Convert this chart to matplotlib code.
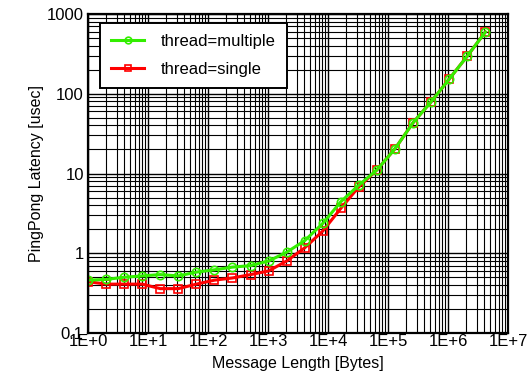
import numpy as np
import matplotlib
matplotlib.use('Agg')
import matplotlib.pyplot as plt
from matplotlib.ticker import LogLocator, FixedLocator, FuncFormatter, NullFormatter

plt.rcParams['font.family'] = ['Liberation Sans', 'DejaVu Sans']

# message sizes 2^0 .. 2^22 bytes
msg_bytes = [2 ** i for i in range(23)]
lat_multiple = [0.46, 0.47, 0.50, 0.52, 0.54, 0.52, 0.58, 0.62, 0.67, 0.70,
                0.80, 1.03, 1.44, 2.37, 4.43, 7.17, 11.1, 20.5, 43.4, 79.5,
                153.0, 297.0, 595.0]
lat_single = [0.44, 0.41, 0.41, 0.41, 0.36, 0.36, 0.41, 0.46, 0.49, 0.54,
              0.60, 0.80, 1.17, 1.90, 3.66, 6.83, 11.1, 20.5, 43.4, 79.5,
              153.0, 297.0, 595.0]

fig = plt.figure(figsize=(5.32, 3.73), dpi=100)
fig.set_facecolor('w')
ax = fig.add_axes([88 / 532, 1 - 333 / 373, 420 / 532, 319 / 373])

ax.plot(msg_bytes, lat_multiple, color='#33ee00', lw=2.2, marker='o',
        ms=6, mfc='none', mew=1.2, label='thread=multiple', zorder=4)
ax.plot(msg_bytes, lat_single, color='#ff0000', lw=2.2, marker='s',
        ms=6, mfc='none', mew=1.2, label='thread=single', zorder=3)

ax.set_xscale('log')
ax.set_yscale('log')
ax.set_xlim(1, 1e7)
ax.set_ylim(0.1, 1000)

ax.xaxis.set_major_locator(FixedLocator([10.0 ** k for k in range(8)]))
ax.xaxis.set_major_formatter(FuncFormatter(lambda v, p: '1E+%d' % round(np.log10(v))))
ax.xaxis.set_minor_locator(LogLocator(base=10, subs=np.arange(2, 10), numticks=20))
ax.xaxis.set_minor_formatter(NullFormatter())

ax.yaxis.set_major_locator(FixedLocator([0.1, 1, 10, 100, 1000]))
ax.yaxis.set_major_formatter(FuncFormatter(lambda v, p: ('%g' % v)))
ax.yaxis.set_minor_locator(LogLocator(base=10, subs=np.arange(2, 10), numticks=20))
ax.yaxis.set_minor_formatter(NullFormatter())

ax.grid(True, which='major', color='k', lw=1.0)
ax.grid(True, which='minor', color='k', lw=0.8)
ax.set_axisbelow(True)
ax.tick_params(which='both', length=0, labelsize=12)
ax.tick_params(axis='x', pad=1)
ax.tick_params(axis='y', pad=3)
for s in ax.spines.values():
    s.set_linewidth(1.6)
    s.set_zorder(5)

ax.set_xlabel('Message Length [Bytes]', fontsize=11.5, labelpad=5)
ax.set_ylabel('PingPong Latency [usec]', fontsize=11.5, labelpad=2)

leg = ax.legend(loc='upper left', bbox_to_anchor=(0.029, 0.972), borderaxespad=0,
                fontsize=12, fancybox=False, framealpha=1, edgecolor='k',
                handlelength=2.0, handletextpad=1.0, labelspacing=0.8,
                borderpad=0.65, markerscale=0.8)
leg.get_frame().set_linewidth(1.4)
leg.set_zorder(6)

fig.savefig('out.png', dpi=100)
